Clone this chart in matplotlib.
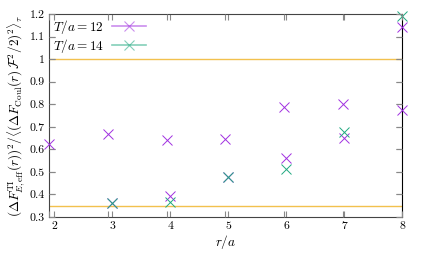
import matplotlib
matplotlib.use("Agg")
import matplotlib.pyplot as plt
from matplotlib.ticker import FixedLocator, FixedFormatter

plt.rcParams['font.family'] = ['cmr10', 'DejaVu Serif']
plt.rcParams['mathtext.fontset'] = 'cm'
plt.rcParams['axes.formatter.use_mathtext'] = True

# ---- data ----
# second overlaid panel (labelled scale 0.3 .. 1.2)
r_b = [3, 4, 5, 6, 7, 8]
ratio_b_T12 = [0.364, 0.393, 0.477, 0.560, 0.649, 1.144]
ratio_b_T14 = [0.360, 0.368, 0.477, 0.511, 0.675, 1.191]
# first overlaid panel (scale 0 .. 1.8)
r_a = [2, 3, 4, 5, 6, 7, 8]
ratio_a_T12 = [0.650, 0.738, 0.683, 0.689, 0.973, 1.002, 0.949]

ref_lines = [1.0, 0.347]

x_ticks = [2, 3, 4, 5, 6, 7, 8]
x_tick_labels = ["2", "3", "4", "5", "6", "7", "8"]
y_ticks = [0.3, 0.4, 0.5, 0.6, 0.7, 0.8, 0.9, 1.0, 1.1, 1.2]
y_tick_labels = ["0.3", "0.4", "0.5", "0.6", "0.7", "0.8", "0.9", "1", "1.1", "1.2"]
y_ticks_a = [0, 0.2, 0.4, 0.6, 0.8, 1.0, 1.2, 1.4, 1.6, 1.8]

series_labels = [r"$T/a = 12$", r"$T/a = 14$"]
c_purple = "#a030e0"
c_green = "#20a880"
c_orange = "#f2c14e"
tick_col = "#888888"
mk = dict(ls='none', marker='x', ms=6.5, mew=0.7, zorder=3, clip_on=False)

fig = plt.figure(figsize=(4.27, 2.57), dpi=100)
rect = [49/427, 1-217/257, (402-49)/427, (217-14)/257]
ax = fig.add_axes(rect)
ax2 = fig.add_axes(rect)
ax2.patch.set_visible(False)

# main (labelled) axes
for y in ref_lines:
    ax.axhline(y, color=c_orange, lw=1.0, zorder=1)
ax.plot(r_b, ratio_b_T12, color=c_purple, **mk)
ax.plot(r_b, ratio_b_T14, color=c_green, **mk)
ax.set_xlim(1.907, 8.0)
ax.set_ylim(0.3, 1.2)
ax.xaxis.set_major_locator(FixedLocator(x_ticks))
ax.xaxis.set_major_formatter(FixedFormatter(x_tick_labels))
ax.yaxis.set_major_locator(FixedLocator(y_ticks))
ax.yaxis.set_major_formatter(FixedFormatter(y_tick_labels))
ax.tick_params(direction='in', length=4, width=0.8, color=tick_col, labelsize=8.5,
               top=True, right=True, pad=3)
for s in ax.spines.values():
    s.set_color("#444444")
    s.set_linewidth(0.8)
ax.spines['right'].set_color("black")

# overlaid axes
ax2.plot(r_a, ratio_a_T12, color=c_purple, **mk)
ax2.set_xlim(2.0, 8.0)
ax2.set_ylim(0.0, 1.8)
ax2.xaxis.set_major_locator(FixedLocator(x_ticks))
ax2.yaxis.set_major_locator(FixedLocator(y_ticks_a))
ax2.tick_params(direction='in', length=4, width=0.8, color=tick_col,
                top=True, right=True, labelbottom=False, labelleft=False)
for s in ax2.spines.values():
    s.set_visible(False)

# legend
h1, = ax.plot([], [], color=c_purple, alpha=0.55, lw=1.2, marker='x', ms=6.5, mew=0.8,
              mec=c_purple)
h2, = ax.plot([], [], color=c_green, alpha=0.55, lw=1.2, marker='x', ms=6.5, mew=0.8,
              mec=c_green)
leg = ax.legend([h1, h2], series_labels, loc='upper left', frameon=False, fontsize=9.5,
                markerfirst=False, handlelength=2.6, borderaxespad=0.1,
                labelspacing=0.05, handletextpad=0.6, borderpad=0.2)

ax.set_xlabel(r"$r/a$", fontsize=9.5, labelpad=2)
ax.set_ylabel(r"$(\Delta F^{\rm TI}_{E,{\rm eff}}(r))^2/\langle(\Delta F_{\rm Coul}(r)\,\mathcal{F}^2/2)^2\rangle_\tau$",
              fontsize=9.5, labelpad=2)

fig.savefig("out.png", dpi=100)
